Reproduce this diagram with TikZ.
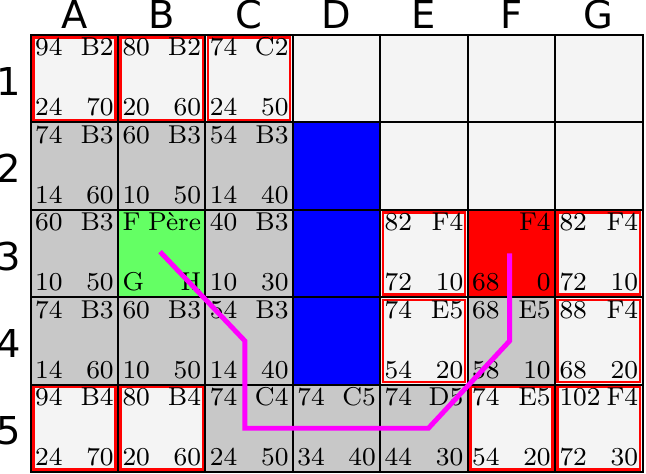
\documentclass[tikz,border=0pt]{standalone}
\usepackage{fontspec}
\newfontfamily\entetefont{DejaVu Sans}
\usetikzlibrary{positioning}
\definecolor{casevide}{RGB}{244,244,244}
\definecolor{casegrise}{RGB}{200,200,200}
\definecolor{pere}{RGB}{100,255,100}
\definecolor{chemin}{RGB}{255,0,255}

\begin{document}
\begin{tikzpicture}[
        case/.style={rectangle, draw=black, line width=0.65pt, fill=casevide, minimum size=1cm, inner sep=0pt},
        vide/.style={},
        ouverte/.style={path picture={\draw[red, line width=0.8pt] ([shift={(0.03,-0.03)}]path picture bounding box.north west) rectangle ([shift={(-0.03,0.03)}]path picture bounding box.south east);}},
        fermee/.style={fill=casegrise},
        mur/.style={fill=blue},
        depart/.style={fill=pere},
        arrivee/.style={fill=red},
        coin/.style={inner sep=0pt, font=\fontsize{8.4}{10}\selectfont},
        entete/.style={font=\entetefont\fontsize{12.5}{15}\selectfont, inner sep=0pt},
        trajet/.style={draw=chemin, line width=1.6pt}
    ]
        \useasboundingbox (-0.351,0.400) rectangle (7.040,-5.023);

        % En-tetes des colonnes et des lignes
        \foreach \x/\col in {0/A,1/B,2/C,3/D,4/E,5/F,6/G}
            \node[entete] (t\col) at (\x+0.5,0.235) {\col};
        \foreach \y in {1,...,5}
            \node[entete] (l\y) at (-0.25,0.47-\y) {\y};

        % Cases de la grille
        \foreach \x/\col/\y/\etat/\hg/\hd/\bg/\bd in {
            0/A/1/ouverte/94/B2/24/70, 1/B/1/ouverte/80/B2/20/60, 2/C/1/ouverte/74/C2/24/50,
            3/D/1/vide/{}/{}/{}/{}, 4/E/1/vide/{}/{}/{}/{}, 5/F/1/vide/{}/{}/{}/{}, 6/G/1/vide/{}/{}/{}/{},
            0/A/2/fermee/74/B3/14/60, 1/B/2/fermee/60/B3/10/50, 2/C/2/fermee/54/B3/14/40,
            3/D/2/mur/{}/{}/{}/{}, 4/E/2/vide/{}/{}/{}/{}, 5/F/2/vide/{}/{}/{}/{}, 6/G/2/vide/{}/{}/{}/{},
            0/A/3/fermee/60/B3/10/50, 1/B/3/depart/F/Père/G/H, 2/C/3/fermee/40/B3/10/30,
            3/D/3/mur/{}/{}/{}/{}, 4/E/3/ouverte/82/F4/72/10, 5/F/3/arrivee/{}/F4/68/0, 6/G/3/ouverte/82/F4/72/10,
            0/A/4/fermee/74/B3/14/60, 1/B/4/fermee/60/B3/10/50, 2/C/4/fermee/54/B3/14/40,
            3/D/4/mur/{}/{}/{}/{}, 4/E/4/ouverte/74/E5/54/20, 5/F/4/fermee/68/E5/58/10, 6/G/4/ouverte/88/F4/68/20,
            0/A/5/ouverte/94/B4/24/70, 1/B/5/ouverte/80/B4/20/60, 2/C/5/fermee/74/C4/24/50,
            3/D/5/fermee/74/C5/34/40, 4/E/5/fermee/74/D5/44/30, 5/F/5/ouverte/74/E5/54/20, 6/G/5/ouverte/102/F4/72/30}
        {
            \node[case, \etat] (\col\y) at (\x+0.5,0.5-\y) {};
            \node[coin, anchor=base west] (\col\y-hg) at ([shift={(0.055,-0.25)}]\col\y.north west) {\hg};
            \node[coin, anchor=base east] (\col\y-hd) at ([shift={(-0.055,-0.25)}]\col\y.north east) {\hd};
            \node[coin, anchor=base west] (\col\y-bg) at ([shift={(0.055,0.085)}]\col\y.south west) {\bg};
            \node[coin, anchor=base east] (\col\y-bd) at ([shift={(-0.055,0.085)}]\col\y.south east) {\bd};
        }

        % Chemin trouve
        \draw[trajet] ([shift={(-0.02,0.02)}]B3.center) -- ([xshift=-0.05cm]C4.center) -- ([xshift=-0.05cm]C5.center)
            -- ([xshift=0.05cm]E5.center) -- ([xshift=-0.02cm]F4.center) -- ([xshift=-0.02cm]F3.center);
    \end{tikzpicture}
\end{document}
